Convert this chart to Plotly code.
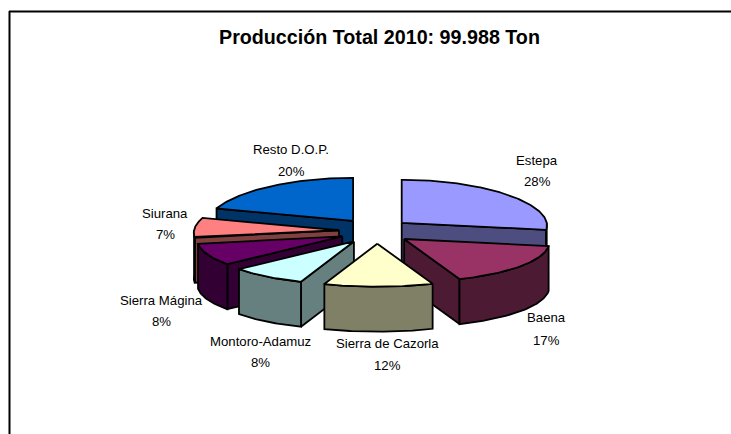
import numpy as np
import plotly.graph_objects as go

# Data
categories = ["Estepa", "Baena", "Sierra de Cazorla", "Montoro-Adamuz", "Sierra Mágina", "Siurana", "Resto D.O.P."]
tons = [27600, 16510, 11500, 8200, 8400, 7400, 20378]
top_colors = ["#9999FF", "#993366", "#FFFFCC", "#CCFFFF", "#660066", "#FF8080", "#0066CC"]
side_colors = ["#4D4D80", "#4D1A33", "#808066", "#668080", "#330033", "#804040", "#003366"]
title_text = "Producción Total 2010: 99.988 Ton"

# Label centres in page pixels: (x, name y, percent y)
label_pos = [(537, 160, 181), (546, 317, 340), (387, 343, 365), (260, 341, 362),
             (161, 300, 321), (165, 213, 234), (291, 149, 171)]
# Small per-slice horizontal offsets of the exploded slices (page pixels)
slice_dx = [1, 3, 3, 0, 0, 0, 0]

# Projection of the pie (page pixels)
CX, CY = 374, 231
RX, RY = 145, 43
EX, EY = 35, 12.7
DEPTH = 45
PERSPECTIVE = 0.06
PAINT_ORDER = [6, 0, 5, 4, 1, 3, 2]

total = sum(tons)
edges = np.concatenate([[0], np.cumsum(tons)]) / total * 360


def pt(apex, deg, dy=0):
    t = np.radians(deg)
    c = np.cos(t)
    return apex[0] + RX * np.sin(t) * (1 - PERSPECTIVE * c), apex[1] - RY * c + dy


def arc(apex, a, b, dy=0):
    d = np.linspace(a, b, max(int(abs(b - a)) + 2, 3))
    return pt(apex, d, dy)


def poly(fig, xs, ys, color):
    fig.add_trace(go.Scatter(
        x=list(xs) + [xs[0]], y=list(ys) + [ys[0]], mode="lines", fill="toself",
        fillcolor=color, line=dict(color="black", width=1.8), hoverinfo="skip", showlegend=False))


fig = go.Figure()
for i in PAINT_ORDER:
    a, b = edges[i], edges[i + 1]
    mid = np.radians((a + b) / 2)
    apex = (CX + EX * np.sin(mid) + slice_dx[i], CY - EY * np.cos(mid))
    top_x, top_y = arc(apex, a, b)
    # visible radial walls
    if np.sin(np.radians(a)) < -1e-9:
        x, y = pt(apex, a)
        poly(fig, [apex[0], x, x, apex[0]], [apex[1], y, y + DEPTH, apex[1] + DEPTH], side_colors[i])
    if np.sin(np.radians(b)) > 1e-9:
        x, y = pt(apex, b)
        poly(fig, [apex[0], x, x, apex[0]], [apex[1], y, y + DEPTH, apex[1] + DEPTH], side_colors[i])
    # visible outer wall
    lo, hi = max(a, 90), min(b, 270)
    if hi > lo:
        x1, y1 = arc(apex, lo, hi)
        x2, y2 = arc(apex, hi, lo, DEPTH)
        poly(fig, np.concatenate([x1, x2]), np.concatenate([y1, y2]), side_colors[i])
    # top face
    poly(fig, np.concatenate([[apex[0]], top_x]), np.concatenate([[apex[1]], top_y]), top_colors[i])

annotations = [dict(x=379, y=37, text=f"<b>{title_text}</b>", font=dict(size=19.7))]
for name, v, (x, y1, y2) in zip(categories, tons, label_pos):
    annotations.append(dict(x=x, y=y1, text=name, font=dict(size=13.2)))
    annotations.append(dict(x=x, y=y2, text=f"{round(v / total * 100)}%", font=dict(size=13.2)))
for an in annotations:
    an.update(xref="x", yref="y", showarrow=False, xanchor="center", yanchor="middle")

fig.update_layout(
    width=731, height=434, margin=dict(l=0, r=0, t=0, b=0),
    paper_bgcolor="white", plot_bgcolor="white",
    font=dict(family="Liberation Sans", color="black"),
    xaxis=dict(range=[0, 731], visible=False, fixedrange=True),
    yaxis=dict(range=[434, 0], visible=False, fixedrange=True),
    annotations=annotations,
    shapes=[dict(type="line", xref="x", yref="y", x0=9.5, x1=9.5, y0=11, y1=434, line=dict(color="black", width=2)),
            dict(type="line", xref="x", yref="y", x0=9, x1=731, y0=11.5, y1=11.5, line=dict(color="black", width=2))],
)
fig.write_html("out.html", config={"displayModeBar": False},
               post_script="document.body.style.margin='0';document.body.style.overflow='hidden';")
